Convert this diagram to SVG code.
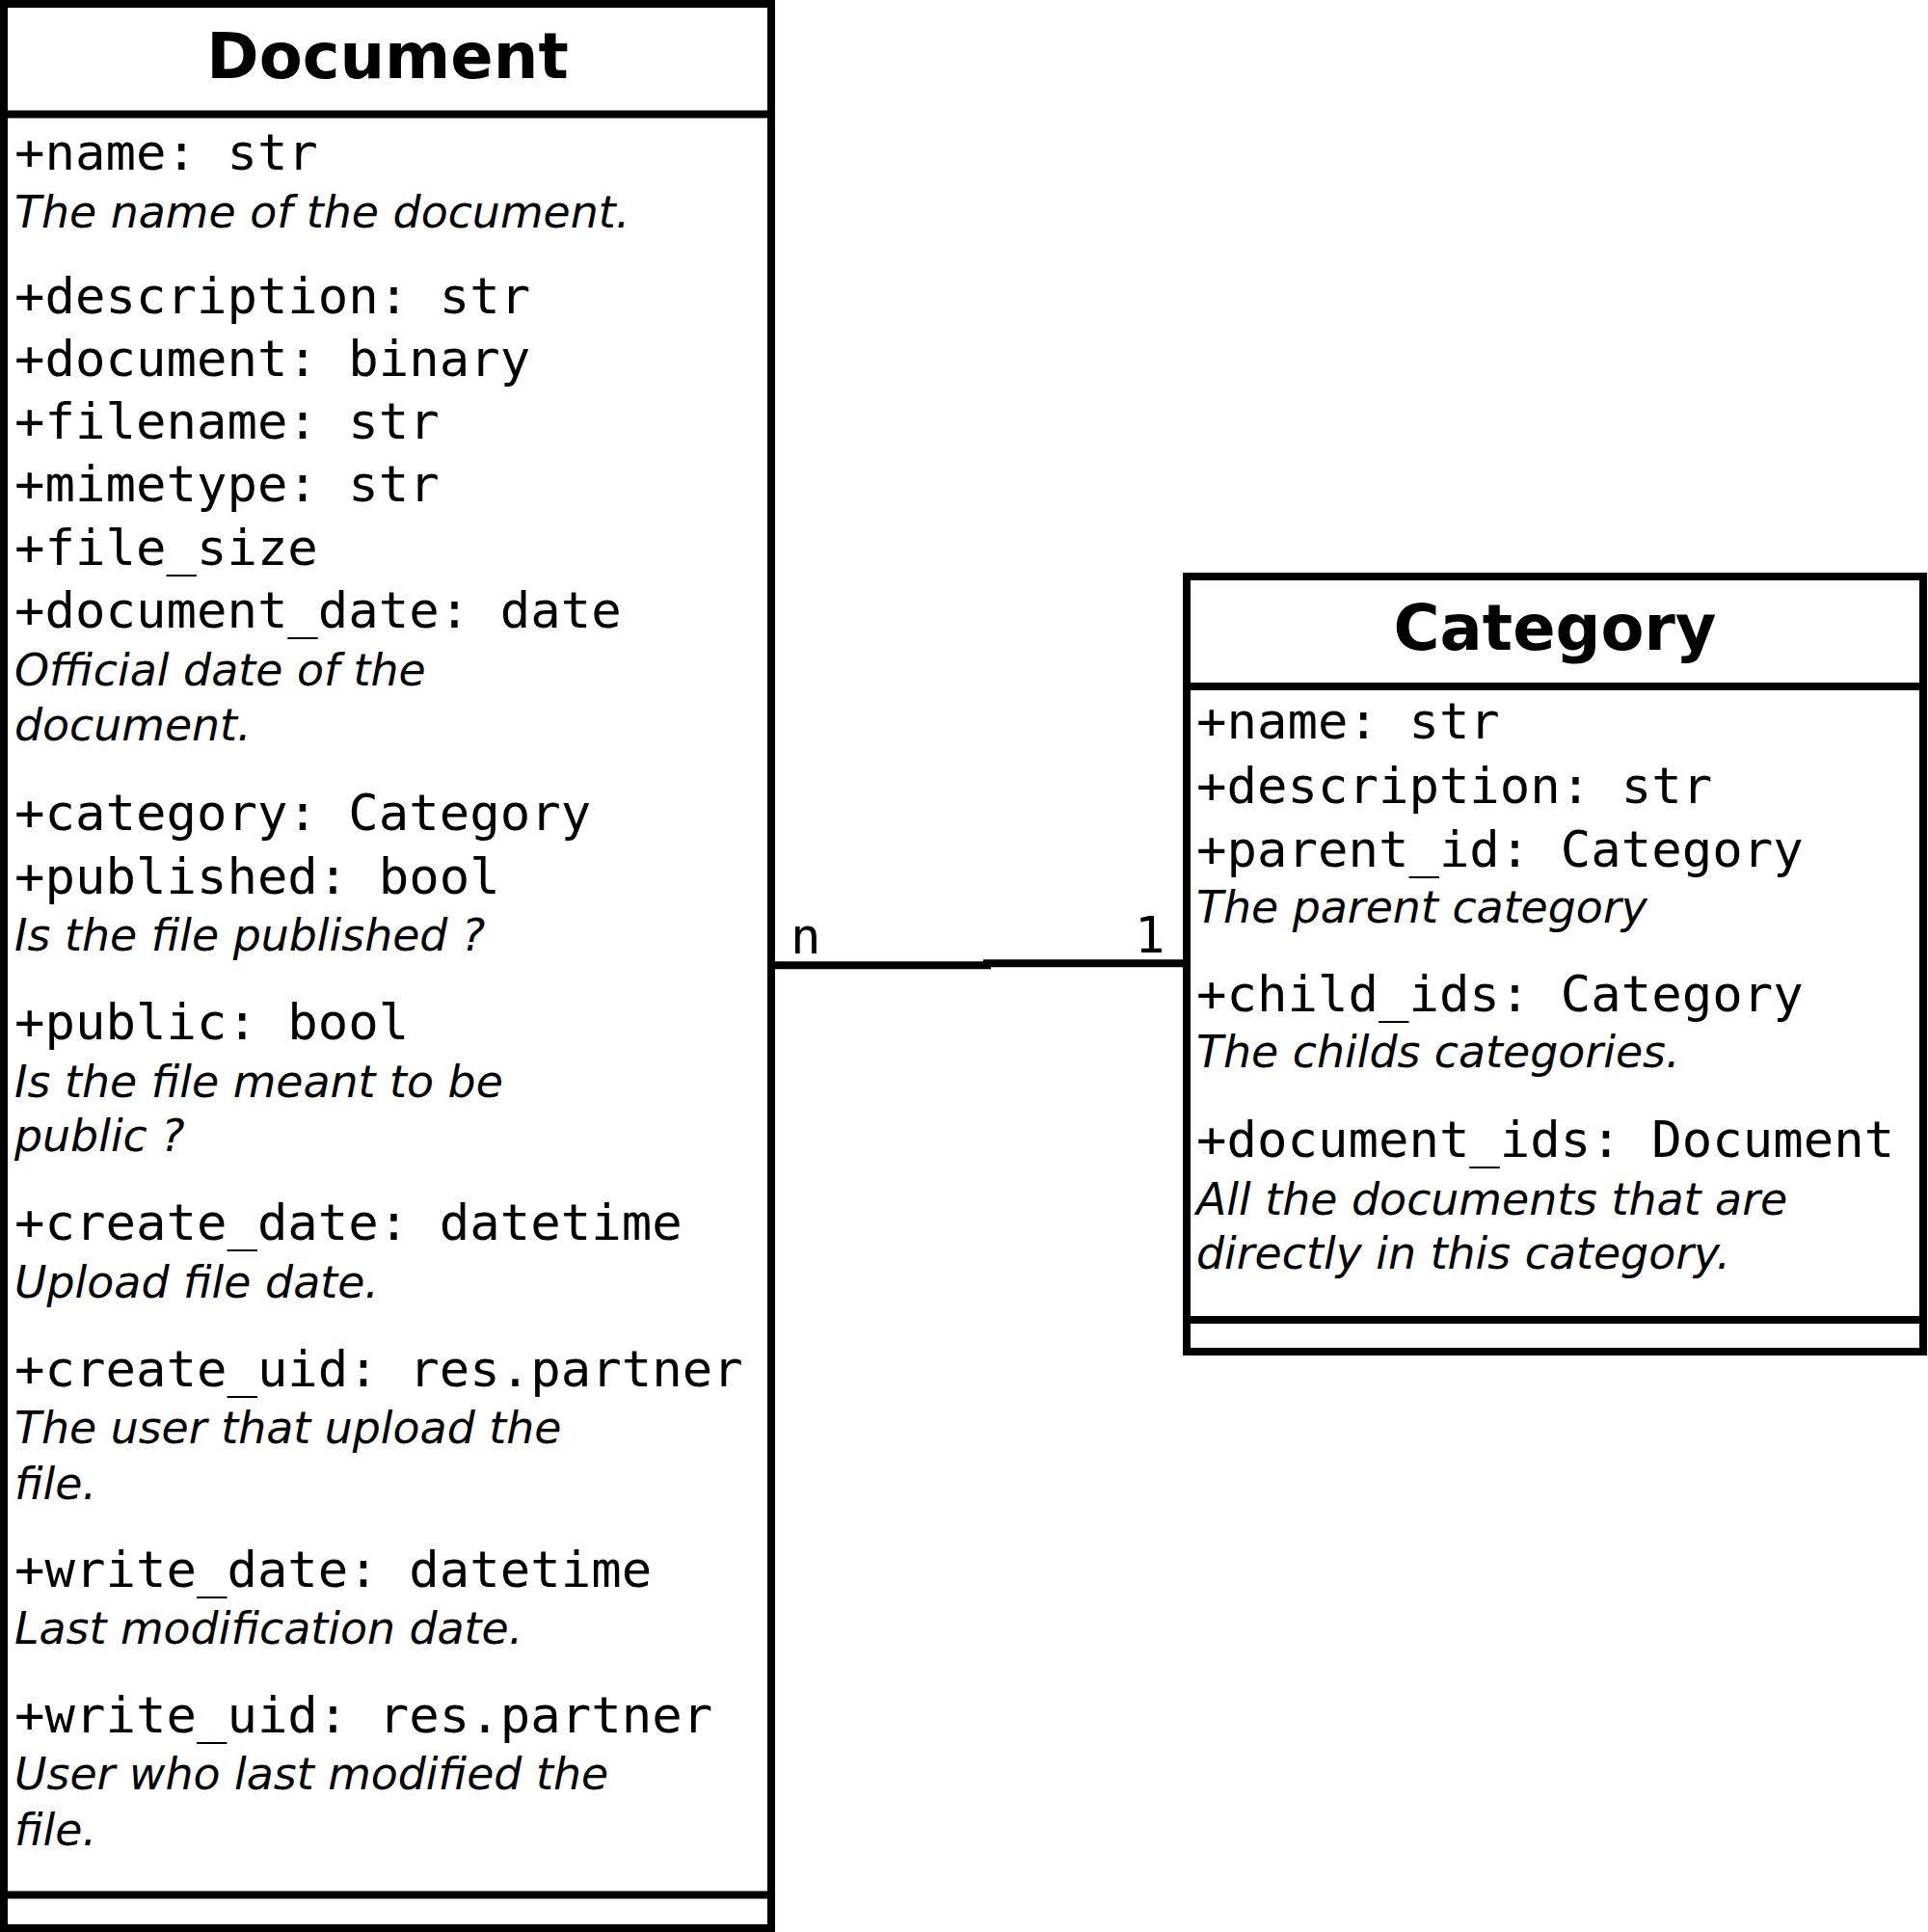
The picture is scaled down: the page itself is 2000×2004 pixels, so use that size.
<svg xmlns="http://www.w3.org/2000/svg" width="2000" height="2004" viewBox="0 0 2000 2004">
<style>
.box{fill:#fff;stroke:#000;stroke-width:8}
.sep{stroke:#000;stroke-width:8;fill:none}
.title{font-family:"DejaVu Sans","Liberation Sans",sans-serif;font-weight:bold;font-size:65.5px;text-anchor:middle;fill:#000}
.attr{font-family:"DejaVu Sans Mono","Liberation Mono",monospace;font-size:52.3px;fill:#000}
.doc{font-family:"DejaVu Sans","Liberation Sans",sans-serif;font-style:italic;font-size:45.8px;fill:#000}
.conn{stroke:#000;stroke-width:8;fill:none}
</style>
<rect x="0" y="0" width="2000" height="2004" fill="#fff"/>
<g id="Document">
<rect class="box" x="4" y="4" width="796" height="1996"/>
<line class="sep" x1="4" y1="118.5" x2="800" y2="118.5"/>
<line class="sep" x1="4" y1="1965.5" x2="800" y2="1965.5"/>
<text class="title" x="402" y="81">Document</text>
<text class="attr" x="15" y="176">+name: str</text>
<text class="doc" x="15" y="236">The name of the document.</text>
<text class="attr" x="15" y="324.5">+description: str</text>
<text class="attr" x="15" y="389.5">+document: binary</text>
<text class="attr" x="15" y="455">+filename: str</text>
<text class="attr" x="15" y="520">+mimetype: str</text>
<text class="attr" x="15" y="585.5">+file_size</text>
<text class="attr" x="15" y="651">+document_date: date</text>
<text class="doc" x="15" y="711">Official date of the</text>
<text class="doc" x="15" y="768">document.</text>
<text class="attr" x="15" y="861">+category: Category</text>
<text class="attr" x="15" y="926.5">+published: bool</text>
<text class="doc" x="15" y="986">Is the file published ?</text>
<text class="attr" x="15" y="1078">+public: bool</text>
<text class="doc" x="15" y="1138">Is the file meant to be</text>
<text class="doc" x="15" y="1194">public ?</text>
<text class="attr" x="15" y="1286">+create_date: datetime</text>
<text class="doc" x="15" y="1345.5">Upload file date.</text>
<text class="attr" x="15" y="1437.5">+create_uid: res.partner</text>
<text class="doc" x="15" y="1497">The user that upload the</text>
<text class="doc" x="15" y="1555">file.</text>
<text class="attr" x="15" y="1645.5">+write_date: datetime</text>
<text class="doc" x="15" y="1705">Last modification date.</text>
<text class="attr" x="15" y="1797">+write_uid: res.partner</text>
<text class="doc" x="15" y="1856">User who last modified the</text>
<text class="doc" x="15" y="1914">file.</text>
</g>
<g id="Category">
<rect class="box" x="1231" y="598" width="764" height="804"/>
<line class="sep" x1="1231" y1="712" x2="1995" y2="712"/>
<line class="sep" x1="1231" y1="1369" x2="1995" y2="1369"/>
<text class="title" x="1613" y="674">Category</text>
<text class="attr" x="1241" y="766">+name: str</text>
<text class="attr" x="1241" y="832.5">+description: str</text>
<text class="attr" x="1241" y="899">+parent_id: Category</text>
<text class="doc" x="1241" y="956.5">The parent category</text>
<text class="attr" x="1241" y="1048.5">+child_ids: Category</text>
<text class="doc" x="1241" y="1107">The childs categories.</text>
<text class="attr" x="1241" y="1200">+document_ids: Document</text>
<text class="doc" x="1241" y="1260">All the documents that are</text>
<text class="doc" x="1241" y="1316">directly in this category.</text>
</g>
<g id="connectors">
<line class="conn" x1="804" y1="1001.3" x2="1028" y2="1001.3"/>
<line class="conn" x1="1020" y1="999.3" x2="1227" y2="999.3"/>
<text class="attr" x="820" y="989">n</text>
<text class="attr" x="1177" y="988">1</text>
</g>
</svg>
